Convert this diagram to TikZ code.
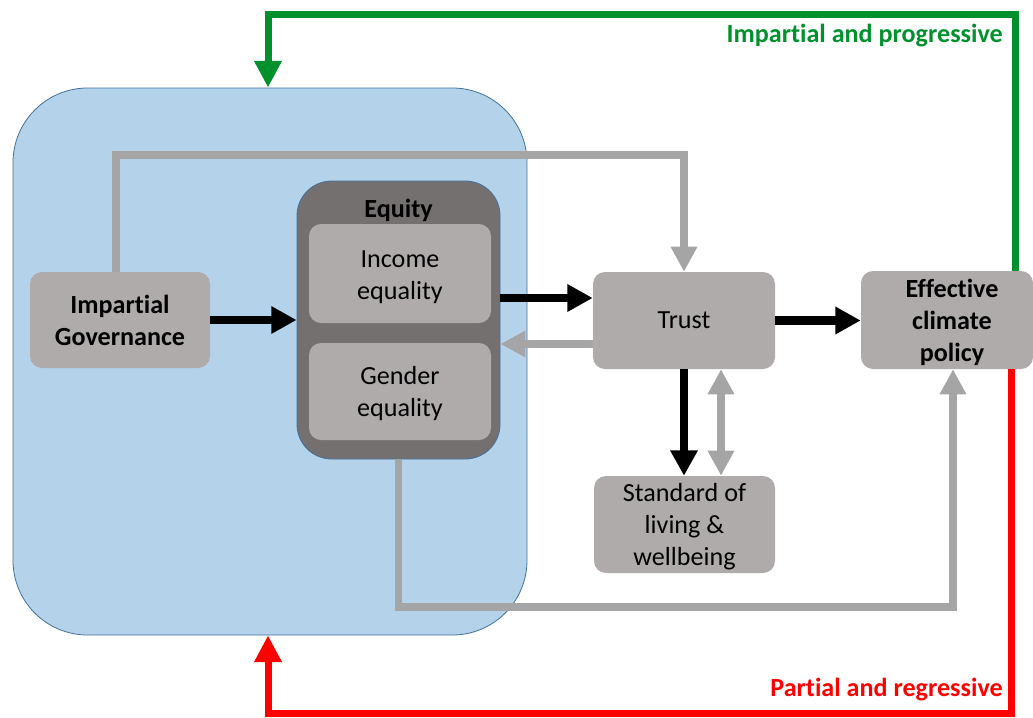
\documentclass[tikz,border=0pt]{standalone}
\usepackage{fontspec}
\setmainfont{Carlito}[Ligatures={NoCommon}]
\usetikzlibrary{arrows.meta}
\definecolor{boxgray}{HTML}{AFABAB}
\definecolor{eqgray}{HTML}{757070}
\definecolor{regionblue}{HTML}{B4D3EB}
\definecolor{borderblue}{HTML}{41719C}
\definecolor{arrgray}{HTML}{A5A5A5}
\definecolor{pgreen}{HTML}{00912D}
\definecolor{pred}{HTML}{FF0000}
\tikzset{
  box/.style={fill=boxgray, rounded corners=9pt, align=center, inner sep=2pt,
    font=\fontsize{19.6}{24}\selectfont, text=black},
  boldbox/.style={box, font=\fontsize{19.6}{24}\selectfont\bfseries},
  blackarr/.style={draw=black, line width=6.5pt, -{Triangle[width=19.5pt,length=19pt]}},
  grayarr/.style={draw=arrgray, line width=5.6pt, -{Triangle[width=18.75pt,length=18.75pt]}},
  grayboth/.style={draw=arrgray, line width=5.6pt, {Triangle[width=18.75pt,length=18.75pt]}-{Triangle[width=18.75pt,length=18.75pt]}},
  greenarr/.style={draw=pgreen, line width=5.25pt, -{Triangle[width=19.5pt,length=20pt]}},
  redarr/.style={draw=pred, line width=5.25pt, -{Triangle[width=19.5pt,length=20pt]}},
  looplabel/.style={font=\fontsize{19.6}{24}\selectfont\bfseries, anchor=east, inner sep=0pt}
}
\begin{document}
\begin{tikzpicture}[x=0.75pt,y=-0.75pt]
\useasboundingbox (0,0) rectangle (1033,718);
% region
\node[fill=regionblue, draw=borderblue, line width=0.6pt, rounded corners=56pt,
  minimum width=385.5pt, minimum height=410.25pt, inner sep=0pt] (region) at (270,361.5) {};
% nodes
\node[boldbox, minimum width=135pt, minimum height=72pt] (gov) at (120,320) {Impartial\\Governance};
\node[fill=eqgray, draw=borderblue, line width=0.6pt, rounded corners=26pt,
  minimum width=152.25pt, minimum height=208.5pt, inner sep=0pt] (equity) at (398.5,320) {};
\node[font=\fontsize{19.6}{24}\selectfont\bfseries, inner sep=0pt] (eqlabel) at (398.5,210) {Equity};
\node[box, minimum width=136.5pt, minimum height=74.25pt] (income) at (400,273.5) {};
\node[box, minimum width=136.5pt, minimum height=72.75pt] (gender) at (400,391.5) {};
\node[box, fill=none] (incomet) at (400,277) {Income\\equality};
\node[box, fill=none] (gendert) at (400,394) {Gender\\equality};
\node[box, minimum width=136.5pt, minimum height=72.75pt] (trust) at (684,320.5) {Trust};
\node[boldbox, minimum width=129pt, minimum height=73.5pt] (eff) at (947,320) {};
\node[boldbox, fill=none] (efft) at (952,322) {Effective\\climate\\policy};
\node[box, minimum width=135.75pt, minimum height=72.75pt] (std) at (684.5,524.5) {};
\node[box, fill=none] (stdt) at (684.5,527) {Standard of\\living \&\\wellbeing};
% helper coordinates
\coordinate (g1) at (116,155);
\coordinate (e2) at (953,607);
\coordinate (gx) at (1015,0);
\coordinate (gtop) at (268,14);
\coordinate (rx) at (1011,0);
\coordinate (rbot) at (268,713);
\coordinate (ya) at (0,298);
\coordinate (yb) at (0,344);
\coordinate (xa) at (721,0);
% grey connectors
\draw[grayarr] (gov.north -| g1) -- (g1) -| (trust.north);
\draw[grayarr] (equity.south) |- (e2) -- (eff.south -| e2);
\draw[grayarr] (trust.west |- yb) -- (equity.east |- yb);
\draw[grayboth] (trust.south -| xa) -- (std.north -| xa);
% black connectors
\draw[blackarr] (gov.east) -- (equity.west |- gov.east);
\draw[blackarr] (equity.east |- ya) -- (trust.west |- ya);
\draw[blackarr] (trust.east) -- (eff.west |- trust.east);
\draw[blackarr] (trust.south) -- (std.north -| trust.south);
% feedback loops
\draw[greenarr] (eff.north -| gx) |- (gtop) -- (region.north -| gtop);
\draw[redarr] (eff.south -| rx) |- (rbot) -- (region.south -| rbot);
\node[looplabel, text=pgreen] (lgreen) at (1003,36) {Impartial and progressive};
\node[looplabel, text=pred] (lred) at (1003,690) {Partial and regressive};
\end{tikzpicture}
\end{document}
